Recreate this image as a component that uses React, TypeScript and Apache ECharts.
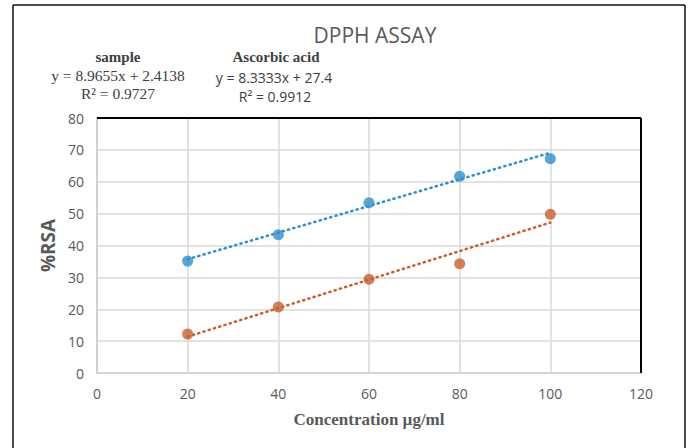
import React, { useEffect, useRef } from "react";
import * as echarts from "echarts";

const concentrations = [20, 40, 60, 80, 100];
const ascorbicValues = [35.1, 43.4, 53.4, 61.7, 67.2];
const sampleValues = [12.2, 20.7, 29.4, 34.3, 49.8];
// trendline endpoints (at 20 and 100)
const trendX = [20, 100];
const ascorbicTrend = [35.7, 69.1];
const sampleTrend = [11.4, 47.2];
const xTicks = [0, 20, 40, 60, 80, 100, 120];
const yTicks = [0, 10, 20, 30, 40, 50, 60, 70, 80];

const BLUE = "#2E8FCF";
const ORANGE = "#C8602E";
const GRAY = "#595959";

export default function App() {
  const ref = useRef<HTMLDivElement>(null);
  useEffect(() => {
    document.body.style.margin = "0";
    const chart = echarts.init(ref.current!, null, { renderer: "svg" });
    const pairs = (xs: number[], ys: number[]) => xs.map((x, i) => [x, ys[i]]);
    const dotted = { width: 2.5, type: [1.2, 4.3], cap: "round" };
    const xMin = xTicks[0];
    const xMax = xTicks[xTicks.length - 1];
    const yMin = yTicks[0];
    const yMax = yTicks[yTicks.length - 1];
    chart.setOption({
      animation: false,
      backgroundColor: "#ffffff",
      title: {
        text: "DPPH ASSAY",
        left: 370,
        top: 19,
        textAlign: "center",
        textStyle: { fontFamily: "Open Sans", fontWeight: "normal", fontSize: 21, color: GRAY },
      },
      grid: { left: 97, top: 118, right: 50, bottom: 75 },
      xAxis: {
        type: "value",
        min: xMin,
        max: xMax,
        interval: 20,
        axisLine: { lineStyle: { color: "#D0D0D0", width: 1.5 } },
        axisTick: { show: false },
        splitLine: { lineStyle: { color: "#D9D9D9", width: 1.5 } },
        axisLabel: { color: GRAY, fontFamily: "Open Sans", fontSize: 14, margin: 13 },
        name: "Concentration µg/ml",
        nameLocation: "middle",
        nameGap: 38,
        nameTextStyle: {
          fontFamily: "Liberation Serif",
          fontWeight: "bold",
          fontSize: 17,
          color: GRAY,
        },
      },
      yAxis: {
        type: "value",
        min: yMin,
        max: yMax,
        interval: 10,
        axisLine: { show: true, lineStyle: { color: "#D0D0D0", width: 2 } },
        axisTick: { show: false },
        splitLine: { lineStyle: { color: "#D9D9D9", width: 1.5 } },
        axisLabel: { color: GRAY, fontFamily: "Open Sans", fontSize: 14, margin: 13 },
        name: "%RSA",
        nameLocation: "middle",
        nameGap: 38,
        nameTextStyle: {
          fontFamily: "Open Sans",
          fontWeight: "bold",
          fontSize: 19,
          color: GRAY,
        },
      },
      series: [
        {
          name: "Ascorbic acid trend",
          type: "line",
          data: pairs(trendX, ascorbicTrend),
          symbol: "none",
          lineStyle: { color: BLUE, ...dotted },
          z: 2,
        },
        {
          name: "Sample trend",
          type: "line",
          data: pairs(trendX, sampleTrend),
          symbol: "none",
          lineStyle: { color: ORANGE, ...dotted },
          z: 2,
        },
        {
          name: "Ascorbic acid",
          type: "scatter",
          data: pairs(concentrations, ascorbicValues),
          symbolSize: 11,
          itemStyle: { color: BLUE },
          z: 3,
        },
        {
          name: "sample",
          type: "scatter",
          data: pairs(concentrations, sampleValues),
          symbolSize: 11,
          itemStyle: { color: ORANGE },
          z: 3,
        },
      ],
      graphic: [
        { type: "line", shape: { x1: 13, y1: 5, x2: 13, y2: 448 }, style: { stroke: "#111", lineWidth: 1.5 } },
        { type: "line", shape: { x1: 13, y1: 5, x2: 685, y2: 5 }, style: { stroke: "#111", lineWidth: 1.5 } },
        { type: "line", shape: { x1: 685, y1: 5, x2: 685, y2: 448 }, style: { stroke: "#111", lineWidth: 1.5 } },
        {
          type: "text",
          x: 118,
          y: 57,
          style: { text: "sample", fontFamily: "Liberation Serif", fontWeight: "bold", fontSize: 15, fill: "#404040", align: "center", verticalAlign: "middle" },
        },
        {
          type: "text",
          x: 118,
          y: 75,
          style: { text: "y = 8.9655x + 2.4138", fontFamily: "Liberation Serif", fontSize: 15.5, fill: "#404040", align: "center", verticalAlign: "middle" },
        },
        {
          type: "text",
          x: 118,
          y: 93,
          style: { text: "R² = 0.9727", fontFamily: "Liberation Serif", fontSize: 15.5, fill: "#404040", align: "center", verticalAlign: "middle" },
        },
        {
          type: "text",
          x: 276,
          y: 57,
          style: { text: "Ascorbic acid", fontFamily: "Liberation Serif", fontWeight: "bold", fontSize: 15, fill: "#404040", align: "center", verticalAlign: "middle" },
        },
        {
          type: "text",
          x: 274,
          y: 77,
          style: { text: "y = 8.3333x + 27.4", fontFamily: "Open Sans", fontSize: 14, fill: "#404040", align: "center", verticalAlign: "middle" },
        },
        {
          type: "text",
          x: 275,
          y: 96,
          style: { text: "R² = 0.9912", fontFamily: "Open Sans", fontSize: 14, fill: "#404040", align: "center", verticalAlign: "middle" },
        },
      ],
    });
    // black top and right edges of the plot area, placed via the axes' own scales
    const topLeft = chart.convertToPixel({ gridIndex: 0 }, [xMin, yMax]) as number[];
    const topRight = chart.convertToPixel({ gridIndex: 0 }, [xMax, yMax]) as number[];
    const bottomRight = chart.convertToPixel({ gridIndex: 0 }, [xMax, yMin]) as number[];
    chart.setOption({
      graphic: [
        {
          type: "line",
          id: "topEdge",
          z: 10,
          shape: { x1: topLeft[0], y1: topLeft[1], x2: topRight[0], y2: topRight[1] },
          style: { stroke: "#000", lineWidth: 2 },
        },
        {
          type: "line",
          id: "rightEdge",
          z: 10,
          shape: { x1: topRight[0], y1: topRight[1], x2: bottomRight[0], y2: bottomRight[1] },
          style: { stroke: "#000", lineWidth: 2 },
        },
      ],
    });
    return () => chart.dispose();
  }, []);
  return <div ref={ref} style={{ width: 691, height: 448 }} />;
}
